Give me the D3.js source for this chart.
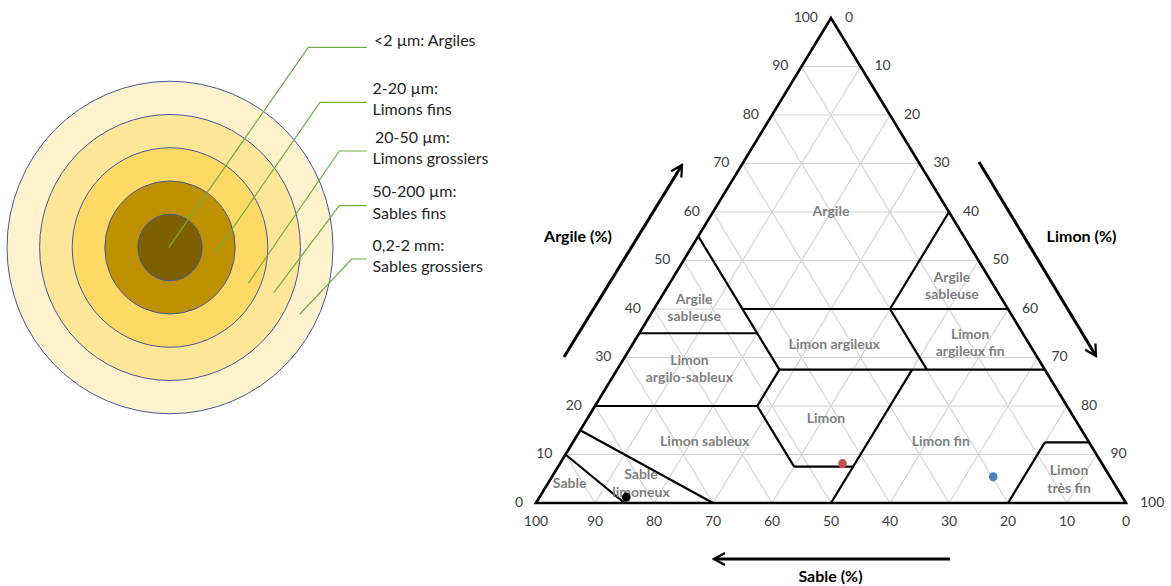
<!DOCTYPE html>
<html>
<head>
<meta charset="utf-8">
<script src="https://cdn.jsdelivr.net/npm/d3@7"></script>
<style>
body{margin:0;background:#fff;}
svg text{font-family:Lato,"Open Sans",sans-serif;}
</style>
</head>
<body>
<div id="chart"></div>
<script>
// grain size fractions (inner to outer)
const fractionNames = ["<2 µm: Argiles", "2-20 µm:|Limons fins", "20-50 µm:|Limons grossiers", "50-200 µm:|Sables fins", "0,2-2 mm:|Sables grossiers"];
const fractionColors = ["#7f6000", "#bf9000", "#ffd966", "#ffe699", "#fff2cc"];

// ternary axis ticks (%)
const ticks = [0, 10, 20, 30, 40, 50, 60, 70, 80, 90, 100];

// class boundaries as [sand, clay] pairs
const boundaries = [
  [[45, 55], [45, 27.5]],
  [[65, 35], [45, 35]],
  [[45, 40], [0, 40]],
  [[0, 60], [20, 40]],
  [[20, 40], [20, 27.5]],
  [[45, 27.5], [0, 27.5]],
  [[45, 27.5], [52.5, 20]],
  [[80, 20], [52.5, 20]],
  [[52.5, 20], [52.5, 7.5]],
  [[52.5, 7.5], [42.5, 7.5]],
  [[22.5, 27.5], [50, 0]],
  [[20, 0], [7.5, 12.5]],
  [[7.5, 12.5], [0, 12.5]],
  [[90, 10], [85, 0]],
  [[85, 15], [70, 0]]
];

// class names and where their label sits [sand, clay]
const classNames = ["Argile", "Argile|sableuse", "Argile|sableuse", "Limon argileux", "Limon|argileux fin",
  "Limon|argilo-sableux", "Limon", "Limon sableux", "Limon fin", "Sable", "Sable|limoneux", "Limon|très fin"];
const classAnchors = [[20, 60], [7.2, 44.6], [53.2, 40], [33.2, 32.5], [10, 32.8],
  [60.3, 27.4], [42.2, 17.3], [65.2, 12.4], [25.2, 12.4], [92.4, 3.8], [80.3, 3.8], [7.3, 4.7]];

// soil samples [sand, clay]
const sampleNames = ["A", "B", "C"];
const sampleSand = [84.1, 44, 19.8];
const sampleClay = [1.2, 8.1, 5.4];

const width = 1171, height = 586;
const svg = d3.select("#chart").append("svg").attr("width", width).attr("height", height);

/* left part: concentric circles */
const rScale = d3.scaleLinear().domain([0, fractionNames.length]).range([0, 163]);
const cx = 170, cy = 247.5;
const rings = svg.append("g");
rings.selectAll("ellipse").data(d3.range(fractionNames.length).reverse()).enter().append("ellipse")
  .attr("cx", cx).attr("cy", cy)
  .attr("rx", i => rScale(i + 1) - (i == 0 ? 0.5 : 0))
  .attr("ry", i => rScale(i + 1) * 1.02)
  .attr("fill", i => fractionColors[i])
  .attr("stroke", "#3f5a99").attr("stroke-width", 1);

// callouts
const calloutY = [47.3, 102.3, 151, 205.7, 259];
const calloutStart = [[168.7, 247.7], [216, 252.3], [248.3, 283.3], [274, 292.3], [300, 314]];
const calloutKnee = [308.3, 320, 339.3, 339.3, 351.7];
const callouts = svg.append("g");
fractionNames.forEach((name, i) => {
  callouts.append("polyline")
    .attr("points", [calloutStart[i], [calloutKnee[i], calloutY[i]], [366.7, calloutY[i]]].map(p => p.join(",")).join(" "))
    .attr("fill", "none").attr("stroke", "#70ad47").attr("stroke-width", 1.2);
  const lines = name.split("|");
  const t = callouts.append("text").attr("x", 374).attr("font-size", 16).attr("fill", "#262626");
  if (lines.length == 1) {
    t.attr("y", calloutY[i] - 5).attr("dominant-baseline", "middle").text(lines[0]);
  } else {
    lines.forEach((l, j) => t.append("tspan").attr("x", j == 0 && i == 2 ? 375 : 372.5)
      .attr("y", calloutY[i] - 12.5 + j * 21.5).attr("dominant-baseline", "middle").text(l));
  }
});

/* right part: ternary diagram */
const px = d3.scaleLinear().domain([0, 100]).range([536, 1126]);   // silt + clay/2
const py = d3.scaleLinear().domain([0, 100]).range([503, 18]);     // clay
const tern = (s, c) => [px(100 - s - c / 2), py(c)];
const line = d3.line();

const tri = svg.append("g");
// grid
const inner = ticks.slice(1, -1);
const gridLines = [];
inner.forEach(k => {
  gridLines.push([[100 - k, k], [0, k]]);       // clay
  gridLines.push([[k, 0], [k, 100 - k]]);       // sand
  gridLines.push([[100 - k, 0], [0, 100 - k]]); // silt
});
tri.selectAll(".grid").data(gridLines).enter().append("path").attr("class", "grid")
  .attr("d", d => line(d.map(p => tern(p[0], p[1]))))
  .attr("stroke", "#d4d4d4").attr("stroke-width", 1.2).attr("fill", "none");

// boundaries
tri.selectAll(".bound").data(boundaries).enter().append("path").attr("class", "bound")
  .attr("d", d => line(d.map(p => tern(p[0], p[1]))))
  .attr("stroke", "#000").attr("stroke-width", 2.2).attr("fill", "none");

// outline
tri.append("path").attr("d", line([tern(100, 0), tern(0, 100), tern(0, 0)]) + "Z")
  .attr("stroke", "#000").attr("stroke-width", 2.6).attr("fill", "none").attr("stroke-linejoin", "miter");

// class labels
classNames.forEach((name, i) => {
  const [x, y] = tern(classAnchors[i][0], classAnchors[i][1]);
  const lines = name.split("|");
  const t = tri.append("text").attr("text-anchor", "middle").attr("font-size", 14)
    .attr("font-weight", "bold").attr("fill", "#7f7f7f");
  lines.forEach((l, j) => t.append("tspan").attr("x", x)
    .attr("y", y + (j - (lines.length - 1) / 2) * 17.5).attr("dominant-baseline", "middle").text(l));
});

// samples
const sampleColor = d3.scaleOrdinal().domain(sampleNames).range(["#000000", "#c0504d", "#4f81bd"]);
tri.selectAll(".sample").data(sampleNames).enter().append("ellipse").attr("class", "sample")
  .attr("cx", (d, i) => tern(sampleSand[i], sampleClay[i])[0])
  .attr("cy", (d, i) => tern(sampleSand[i], sampleClay[i])[1])
  .attr("rx", 4.3).attr("ry", 4.6)
  .attr("fill", d => sampleColor(d));

// tick labels
const tickG = svg.append("g").attr("font-size", 14).attr("fill", "#404040");
tickG.selectAll(".tb").data(ticks).enter().append("text")
  .attr("x", d => tern(d, 0)[0]).attr("y", 522).attr("text-anchor", "middle")
  .attr("dominant-baseline", "middle").text(d => d);
tickG.selectAll(".tl").data(ticks).enter().append("text")
  .attr("x", d => tern(100 - d, d)[0] - 13).attr("y", d => tern(100 - d, d)[1])
  .attr("text-anchor", "end").attr("dominant-baseline", "middle").text(d => d);
tickG.selectAll(".tr").data(ticks).enter().append("text")
  .attr("x", d => tern(0, 100 - d)[0] + 14).attr("y", d => tern(0, 100 - d)[1])
  .attr("text-anchor", "start").attr("dominant-baseline", "middle").text(d => d);

// axis titles and arrows
svg.append("defs").append("marker").attr("id", "head")
  .attr("viewBox", "0 0 14 14").attr("refX", 12).attr("refY", 7)
  .attr("markerWidth", 14).attr("markerHeight", 14).attr("markerUnits", "userSpaceOnUse")
  .attr("orient", "auto")
  .append("path").attr("d", "M1,1 L12,7 L1,13").attr("fill", "none").attr("stroke", "#000").attr("stroke-width", 2.2);

const arrows = [[[564, 357], [682, 165]], [[979, 162], [1096, 356]], [[950, 559], [714, 559]]];
svg.selectAll(".arrow").data(arrows).enter().append("path").attr("class", "arrow")
  .attr("d", d => line(d)).attr("stroke", "#000").attr("stroke-width", 3)
  .attr("fill", "none").attr("marker-end", "url(#head)");

const titles = [["Argile (%)", 578, 238], ["Limon (%)", 1081.5, 238], ["Sable (%)", 830.5, 577.5]];
svg.selectAll(".title").data(titles).enter().append("text")
  .attr("x", d => d[1]).attr("y", d => d[2]).attr("text-anchor", "middle")
  .attr("dominant-baseline", "middle").attr("font-size", 16).attr("font-weight", "bold")
  .attr("fill", "#000").text(d => d[0]);
</script>
</body>
</html>
